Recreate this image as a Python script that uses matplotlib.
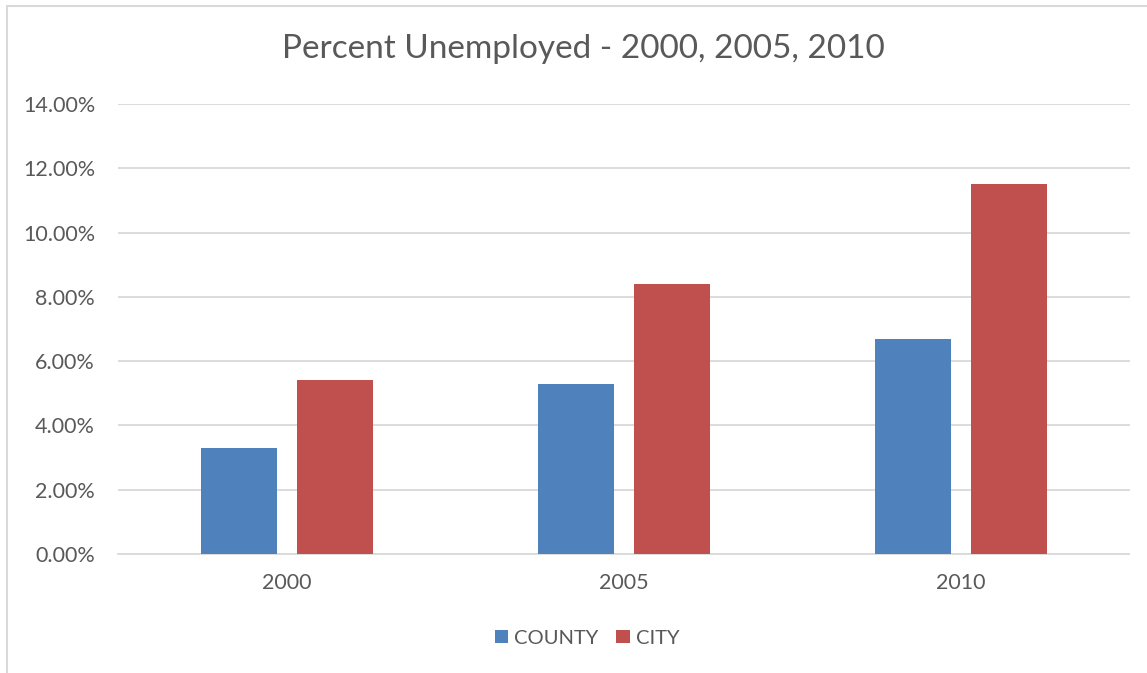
import numpy as np
import matplotlib.pyplot as plt
from matplotlib.patches import Rectangle
from matplotlib.ticker import FuncFormatter

years = ["2000", "2005", "2010"]
county = [3.3, 5.3, 6.7]
city = [5.4, 8.4, 11.5]

BLUE = "#4F81BD"
RED = "#C0504D"
TXT = "#595959"
GRID = "#D9D9D9"

plt.rcParams["font.family"] = ["Lato", "DejaVu Sans"]

fig = plt.figure(figsize=(11.47, 6.73), dpi=100)
W, H = 1147, 673
# plot area in pixels: x 118..1129.5, y 104..554
ax = fig.add_axes([118 / W, 1 - 554 / H, (1129.5 - 118) / W, (554 - 104) / H])

x = np.arange(len(years))
bw = 0.2254
gap = 0.0593
ax.bar(x - (bw + gap) / 2, county, bw, color=BLUE, label="COUNTY", zorder=3)
ax.bar(x + (bw + gap) / 2, city, bw, color=RED, label="CITY", zorder=3)

ax.set_xlim(-0.5, 2.5)
ax.set_ylim(0, 14)
ax.set_yticks(np.arange(0, 15, 2))
ax.yaxis.set_major_formatter(FuncFormatter(lambda v, p: f"{v:.2f}%"))
ax.set_xticks(x)
ax.set_xticklabels(years)
ax.grid(axis="y", color=GRID, linewidth=1.3, zorder=0)
for s in ["top", "right", "left"]:
    ax.spines[s].set_visible(False)
ax.spines["bottom"].set_color(GRID)
ax.spines["bottom"].set_linewidth(1.3)
ax.tick_params(axis="both", length=0, labelsize=15.5, colors=TXT)
ax.tick_params(axis="y", pad=16.5)
ax.tick_params(axis="x", pad=14)

fig.text(583 / W, 1 - 49 / H, "Percent Unemployed - 2000, 2005, 2010",
         ha="center", va="center", fontsize=24, color=TXT)

leg = fig.legend(loc="center", bbox_to_anchor=(587 / W, 1 - 638 / H), ncol=2,
                 frameon=False, fontsize=14.5, handlelength=0.65, handleheight=0.65,
                 handletextpad=0.3, columnspacing=0.9)
for t in leg.get_texts():
    t.set_color(TXT)

# chart border (right and bottom fall outside the image)
fig.add_artist(Rectangle((6.5 / W, -0.1), 1.2, 1 - 6.5 / H + 0.1,
                         transform=fig.transFigure, fill=False,
                         edgecolor=GRID, linewidth=1.5))

fig.savefig("out.png", dpi=100)
